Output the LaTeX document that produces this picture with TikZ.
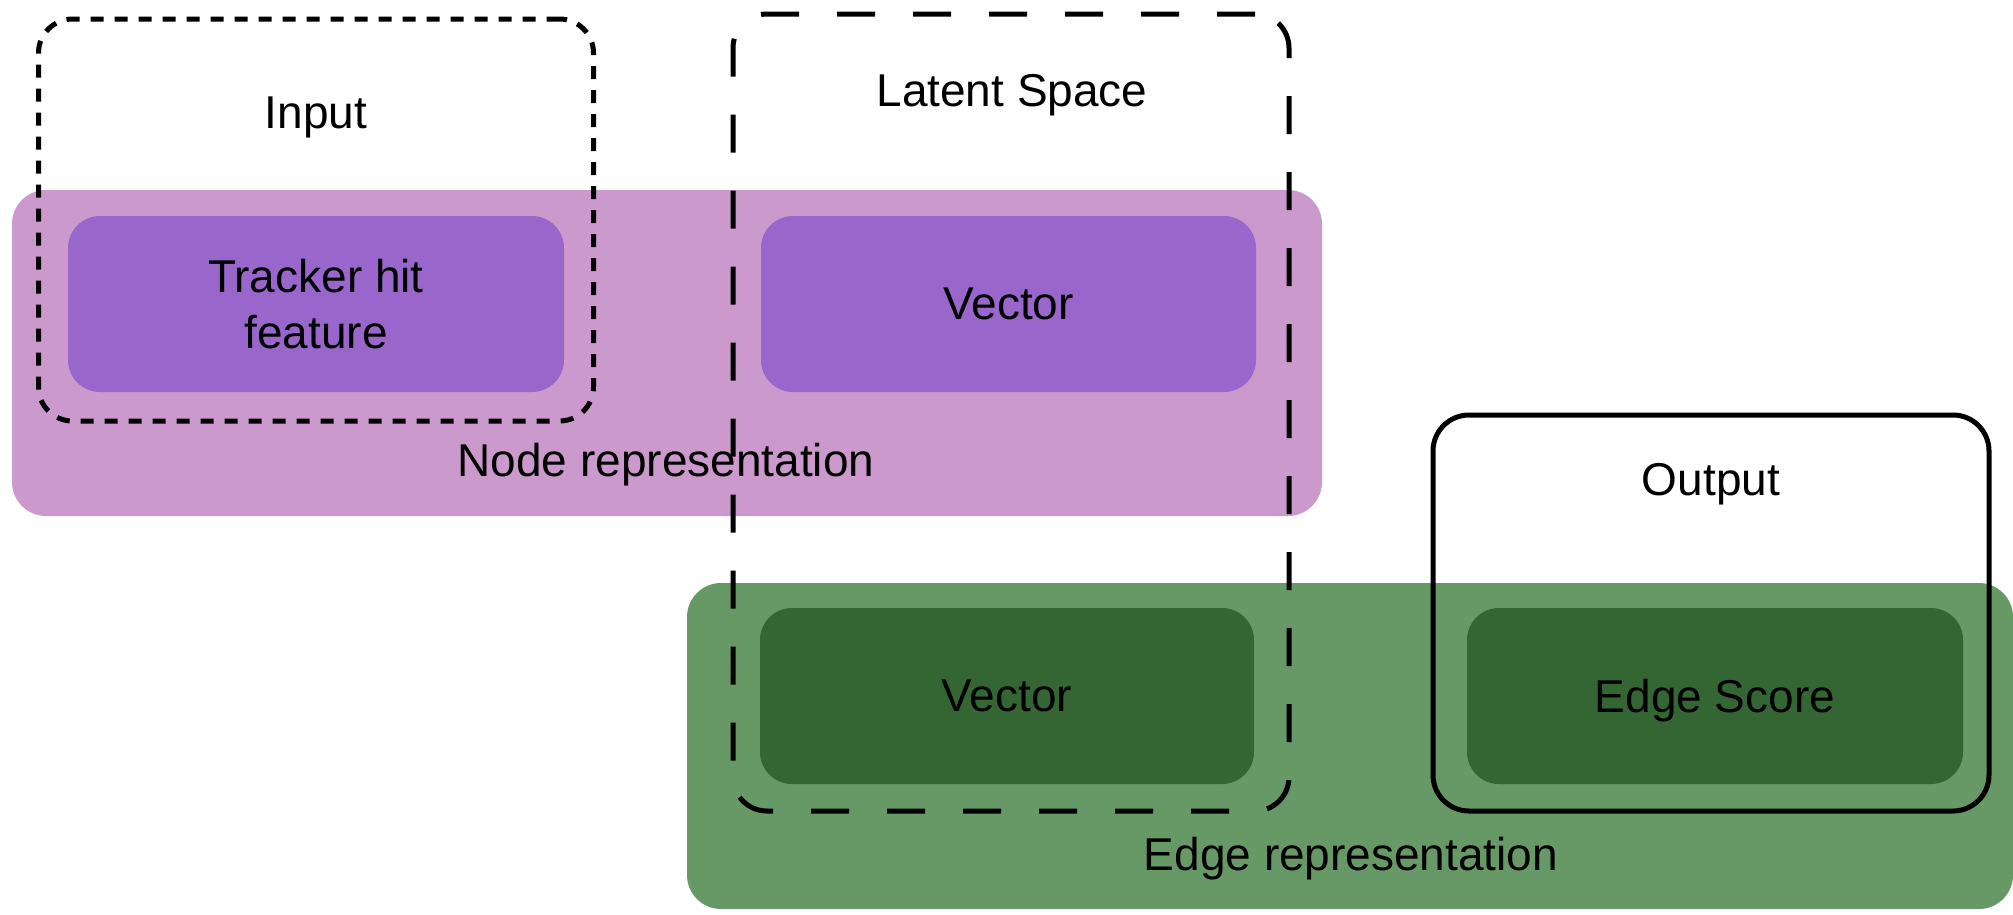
\documentclass[tikz,border=0pt]{standalone}
\usepackage{fontspec}
\setmainfont{Liberation Sans}
\definecolor{pinkbg}{RGB}{204,153,204}
\definecolor{purplebox}{RGB}{153,102,204}
\definecolor{greenbg}{RGB}{102,153,102}
\definecolor{greenbox}{RGB}{51,102,51}
\begin{document}
\begin{tikzpicture}[x=1pt,y=-1pt,
  every node/.style={font=\fontsize{46}{56}\selectfont, inner sep=0pt, outer sep=0pt, text depth=0pt},
  panel/.style={rectangle, rounded corners=34pt, draw=none},
  inbox/.style={rectangle, rounded corners=32pt, draw=none, align=center},
  frameshort/.style={rectangle, rounded corners=34pt, draw=black, line width=5pt, dash pattern=on 13pt off 11pt},
  framelong/.style={rectangle, rounded corners=34pt, draw=black, line width=5pt, dash pattern=on 38pt off 38pt},
  framesolid/.style={rectangle, rounded corners=36pt, draw=black, line width=5pt},
  lbl/.style={align=center}]
\useasboundingbox (0,0) rectangle (2013,914);
% node representation panel
\node[panel, fill=pinkbg, minimum width=1310pt, minimum height=326pt] (nodepanel) at (667,353) {};
\node[inbox, fill=purplebox, minimum width=496pt, minimum height=176pt] (tracker) at (316,304) {Tracker hit\\feature};
\node[inbox, fill=purplebox, minimum width=495pt, minimum height=176pt] (vecnode) at (1008.5,304) {Vector};
% edge representation panel
\node[panel, fill=greenbg, minimum width=1326pt, minimum height=326pt] (edgepanel) at (1350,746) {};
\node[inbox, fill=greenbox, minimum width=494pt, minimum height=176pt] (vecedge) at (1007,696) {Vector};
\node[inbox, fill=greenbox, minimum width=496pt, minimum height=176pt] (score) at (1715,696) {Edge Score};
% panel labels
\node[lbl] (nodelbl) at (666,460) {Node representation};
\node[lbl] (edgelbl) at (1351,854) {Edge representation};
% frames
\node[frameshort, minimum width=555pt, minimum height=402pt] (inputframe) at (316,220) {};
\node[framelong, minimum width=556pt, minimum height=797pt] (latentframe) at (1011,412.5) {};
\node[framesolid, minimum width=556pt, minimum height=396pt] (outputframe) at (1711,613) {};
% frame titles
\node[lbl] (inputlbl) at (316,113) {Input};
\node[lbl] (latentlbl) at (1012,90) {Latent Space};
\node[lbl] (outputlbl) at (1711,479) {Output};
\end{tikzpicture}
\end{document}
